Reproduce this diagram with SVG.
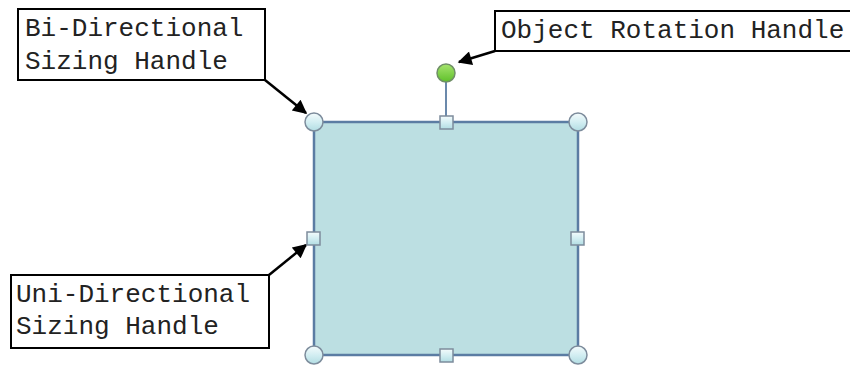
<svg xmlns="http://www.w3.org/2000/svg" width="850" height="366" viewBox="0 0 850 366">
<defs>
<linearGradient id="hg" x1="0" y1="0" x2="0" y2="1">
<stop offset="0" stop-color="#f4fbfc"/>
<stop offset="0.5" stop-color="#d3eef2"/>
<stop offset="1" stop-color="#b2dde3"/>
</linearGradient>
<linearGradient id="gg" x1="0" y1="0" x2="0" y2="1">
<stop offset="0" stop-color="#a6e46e"/>
<stop offset="1" stop-color="#5fc02a"/>
</linearGradient>
<marker id="ah" viewBox="0 0 10 10" refX="9" refY="5" markerWidth="6" markerHeight="6" markerUnits="userSpaceOnUse" orient="auto">
<path d="M0,0 L10,5 L0,10 z" fill="#000"/>
</marker>
<marker id="ah2" viewBox="0 0 10 10" refX="9" refY="5" markerWidth="16" markerHeight="14" orient="auto" markerUnits="userSpaceOnUse">
<path d="M0,0 L10,5 L0,10 z" fill="#000"/>
</marker>
</defs>
<style>
.lbl{fill:#fff;stroke:#000;stroke-width:2}
.t{font-family:"Liberation Mono","Courier New",monospace;font-size:26px;fill:#222}
.h{fill:url(#hg);stroke:#7d8c9c;stroke-width:1.5}
.c{stroke:#000;stroke-width:2.5;fill:none;marker-end:url(#ah2)}
</style>
<rect width="850" height="366" fill="#fff"/>
<g id="connectors">
<line class="c" x1="265" y1="80" x2="306" y2="113"/>
<line class="c" x1="495" y1="51" x2="459" y2="62"/>
<line class="c" x1="269" y1="275" x2="306" y2="245"/>
</g>
<g id="shape">
<line x1="446" y1="80" x2="446" y2="122" stroke="#6b89ab" stroke-width="2"/>
<rect x="314" y="122" width="264" height="233" fill="#bcdfe2" stroke="#5b7ca3" stroke-width="2.5"/>
</g>
<g id="handles">
<circle class="h" cx="314" cy="122" r="9"/>
<circle class="h" cx="578" cy="122" r="9"/>
<circle class="h" cx="314" cy="355" r="9"/>
<circle class="h" cx="578" cy="355" r="9"/>
<rect class="h" x="440" y="116" width="13" height="13"/>
<rect class="h" x="440" y="349" width="13" height="13"/>
<rect class="h" x="307" y="232" width="13" height="13"/>
<rect class="h" x="571" y="232" width="13" height="13"/>
<circle cx="446" cy="73" r="9" fill="url(#gg)" stroke="#6f8f66" stroke-width="1.5"/>
</g>
<g id="label-bi">
<rect class="lbl" x="18" y="9" width="247" height="71"/>
<text class="t" x="25" y="36">Bi-Directional</text>
<text class="t" x="25" y="69">Sizing Handle</text>
</g>
<g id="label-rot">
<rect class="lbl" x="495" y="11" width="360" height="40"/>
<text class="t" x="501" y="38">Object Rotation Handle</text>
</g>
<g id="label-uni">
<rect class="lbl" x="11" y="275" width="258" height="73"/>
<text class="t" x="16" y="302">Uni-Directional</text>
<text class="t" x="16" y="334">Sizing Handle</text>
</g>
</svg>
